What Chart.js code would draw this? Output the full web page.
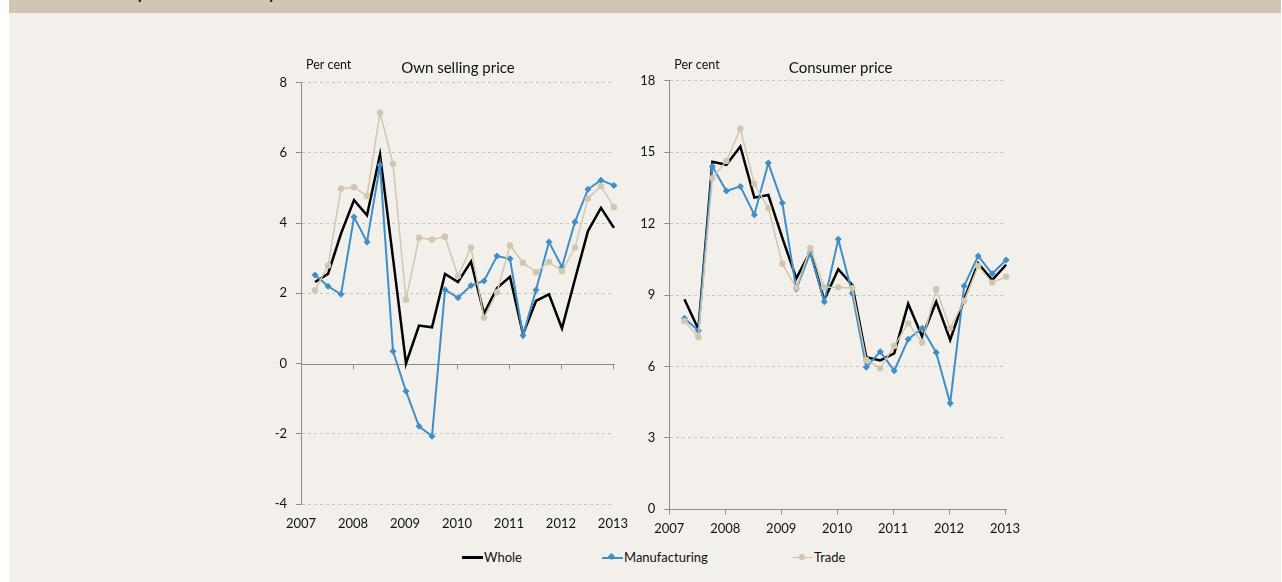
<!DOCTYPE html>
<html>
<head>
<meta charset="utf-8">
<script src="https://cdn.jsdelivr.net/npm/chart.js@4/dist/chart.umd.min.js"></script>
<style>
  html, body { margin: 0; padding: 0; background: #fff; }
  body { width: 1282px; height: 582px; overflow: hidden; position: relative; font-family: Lato, 'Open Sans', sans-serif; }
  #panel { position: absolute; left: 9px; right: 1px; top: 0; bottom: 0; background: #f3f0ec; }
  #band { position: absolute; left: 9px; right: 1px; top: 0; height: 13px; background: #d2c5b4; overflow: hidden; }
  #band span { position: absolute; left: 0; top: -14px; font-weight: bold; font-family: Lato, sans-serif; color: #000; white-space: nowrap; }
  .box { position: absolute; top: 40px; width: 400px; height: 500px; }
  #legend { position: absolute; top: 549px; left: 0; width: 1282px; height: 16px; font-size: 13px; color: #111; }
  #legend .item { position: absolute; top: 0; line-height: 16px; white-space: nowrap; }
  #legend .ln { display: inline-block; position: relative; width: 21px; vertical-align: middle; margin-right: 1px; top: -1px; }
  #legend .mk { position: absolute; left: 7px; }
</style>
</head>
<body>
<div id="panel"></div>
<div id="band"><span id="bandTitle">Chart 2. Inflation expectations of firms by sector</span></div>
<div class="box" style="left:240px"><canvas id="own"></canvas></div>
<div class="box" style="left:640px"><canvas id="cpi"></canvas></div>
<div id="legend">
  <span class="item" style="left:462px"><i class="ln" style="height:2.5px;background:#000"></i>Whole</span>
  <span class="item" style="left:602px"><i class="ln" style="height:2px;background:#3e8ec7"><i class="mk" style="top:-2.5px;width:5px;height:5px;background:#3e8ec7;transform:rotate(45deg)"></i></i>Manufacturing</span>
  <span class="item" style="left:792px"><i class="ln" style="height:1.5px;background:#cfc7ae"><i class="mk" style="top:-2.5px;width:6px;height:6px;border-radius:50%;background:#cfc7ae"></i></i>Trade</span>
</div>
<script>
// quarterly observations, 2007Q2 - 2013Q1
const quarters = ['2007Q2','2007Q3','2007Q4','2008Q1','2008Q2','2008Q3','2008Q4','2009Q1',
  '2009Q2','2009Q3','2009Q4','2010Q1','2010Q2','2010Q3','2010Q4','2011Q1',
  '2011Q2','2011Q3','2011Q4','2012Q1','2012Q2','2012Q3','2012Q4','2013Q1'];
const yearLabels = ['2007','2008','2009','2010','2011','2012','2013'];

// Own selling price, per cent
const ownWhole = [2.32, 2.55, 3.7, 4.65, 4.22, 5.95, 3.0, 0.0, 1.08, 1.03, 2.55, 2.32,
  2.9, 1.42, 2.15, 2.47, 0.83, 1.78, 1.97, 1.0, 2.4, 3.77, 4.43, 3.86];
const ownManufacturing = [2.52, 2.2, 1.97, 4.17, 3.46, 5.65, 0.35, -0.79, -1.79, -2.07, 2.1, 1.87,
  2.22, 2.35, 3.06, 2.98, 0.8, 2.09, 3.46, 2.75, 4.03, 4.96, 5.22, 5.07];
const ownTrade = [2.09, 2.79, 4.98, 5.02, 4.77, 7.14, 5.69, 1.82, 3.58, 3.53, 3.61, 2.49,
  3.3, 1.3, 2.03, 3.36, 2.87, 2.6, 2.89, 2.63, 3.3, 4.7, 5.05, 4.45];

// Consumer price, per cent
const cpiWhole = [8.82, 7.56, 14.6, 14.47, 15.24, 13.09, 13.2, 11.4, 9.7, 10.82, 8.79, 10.08,
  9.42, 6.39, 6.25, 6.55, 8.63, 7.25, 8.72, 7.11, 8.82, 10.34, 9.63, 10.27];
const cpiManufacturing = [8.02, 7.5, 14.4, 13.37, 13.56, 12.37, 14.54, 12.86, 9.25, 10.78, 8.72, 11.34,
  9.07, 5.97, 6.62, 5.82, 7.14, 7.6, 6.58, 4.45, 9.38, 10.64, 9.89, 10.47];
const cpiTrade = [7.91, 7.23, 13.91, 14.63, 15.98, 13.67, 12.65, 10.31, 9.3, 10.97, 9.33, 9.33,
  9.29, 6.27, 5.92, 6.86, 7.81, 7.0, 9.24, 7.6, 8.76, 10.22, 9.52, 9.77];

const ownTicks = ['-4', '-2', '0', '2', '4', '6', '8'];
const cpiTicks = ['0', '3', '6', '9', '12', '15', '18'];

const BLUE = '#3e8ec7';
const BEIGE = '#cfc7ae';
const AXIS = '#8c8c8c';
const FONT = 'Lato, "Open Sans", sans-serif';

// header title: only the descenders show below the top edge; size it so 'p' and 'y' land right
(function fitBandTitle() {
  const el = document.getElementById('bandTitle');
  const txt = el.textContent;
  const ctx = document.createElement('canvas').getContext('2d');
  ctx.font = 'bold 20px Lato';
  const at = i => ctx.measureText(txt.slice(0, i)).width;
  const ip = txt.indexOf('p'), iy = txt.indexOf('y');
  const scale = 131 / (at(iy) - at(ip));
  const size = 20 * scale;
  el.style.fontSize = size + 'px';
  el.style.lineHeight = size + 'px';
  el.style.top = (-0.89 * size) + 'px';
  el.style.left = (140 - 9 - at(ip) * scale - 2) + 'px';
})();

const qPos = quarters.map(q => +q.slice(0, 4) + (+q.slice(5) - 1) * 0.25 + 0.02);
const pts = arr => arr.map((v, i) => ({ x: qPos[i], y: v }));

// zero axis with year ticks, plus panel title and unit label
const panelDeco = {
  id: 'panelDeco',
  beforeDatasetsDraw(chart) {
    const { ctx, chartArea, scales: { x, y } } = chart;
    const y0 = Math.round(y.getPixelForValue(0)) + 0.5;
    ctx.save();
    ctx.strokeStyle = AXIS;
    ctx.lineWidth = 1;
    ctx.beginPath();
    ctx.moveTo(chartArea.left, y0);
    ctx.lineTo(chartArea.right + 2, y0);
    x.ticks.forEach(t => {
      const px = Math.round(x.getPixelForValue(t.value)) + 0.5;
      ctx.moveTo(px, y0);
      ctx.lineTo(px, y0 + 5);
    });
    ctx.stroke();
    ctx.restore();
  },
  afterDraw(chart, args, opts) {
    const { ctx, chartArea } = chart;
    ctx.save();
    ctx.fillStyle = '#111';
    ctx.textBaseline = 'middle';
    ctx.font = '15px ' + FONT;
    ctx.textAlign = 'center';
    ctx.fillText(opts.title, (chartArea.left + chartArea.right) / 2 + opts.shift, 28.5);
    ctx.font = '12.5px ' + FONT;
    ctx.textAlign = 'left';
    ctx.fillText('Per cent', chartArea.left + 5, 25);
    ctx.restore();
  }
};

function makePanel(id, whole, manu, trade, yMin, yMax, yStep, yLabels, opt) {
  new Chart(document.getElementById(id), {
    type: 'line',
    data: {
      datasets: [
        { label: 'Whole', data: pts(whole), borderColor: '#000', borderWidth: 2.5,
          pointRadius: 0, order: 3, clip: false },
        { label: 'Manufacturing', data: pts(manu), borderColor: BLUE, backgroundColor: BLUE,
          borderWidth: 2, pointStyle: 'rectRot', pointRadius: 3.5, pointBorderWidth: 0, order: 2, clip: false },
        { label: 'Trade', data: pts(trade), borderColor: BEIGE, backgroundColor: BEIGE,
          borderWidth: 1.5, pointStyle: 'circle', pointRadius: 3.2, pointBorderWidth: 0, order: 1, clip: false }
      ]
    },
    options: {
      responsive: true,
      maintainAspectRatio: false,
      animation: false,
      layout: { padding: { top: opt.top, right: opt.right, left: 0, bottom: 0 } },
      plugins: {
        legend: { display: false },
        tooltip: { enabled: false },
        panelDeco: { title: opt.title, shift: opt.shift }
      },
      scales: {
        x: {
          type: 'linear', min: 2007, max: 2013,
          grid: { display: false, drawTicks: false },
          border: { display: false },
          ticks: { stepSize: 1, padding: 12, maxRotation: 0, autoSkip: false, color: '#111',
            font: { family: FONT, size: 13 },
            callback: v => yearLabels[v - 2007] },
          afterFit: s => { s.height = opt.xh; }
        },
        y: {
          min: yMin, max: yMax,
          grid: {
            color: c => c.tick && c.tick.value === 0 ? 'rgba(0,0,0,0)' : '#c8c4bf',
            tickColor: AXIS, tickLength: 5, tickBorderDash: []
          },
          border: { display: true, color: AXIS, width: 1, dash: [3, 3] },
          ticks: { stepSize: yStep, padding: 9, color: '#111',
            font: { family: FONT, size: 13 },
            callback: v => yLabels[(v - yMin) / yStep] },
          afterFit: s => { s.width = opt.yw; }
        }
      }
    },
    plugins: [panelDeco]
  });
}

makePanel('own', ownWhole, ownManufacturing, ownTrade, -4, 8, 2, ownTicks,
  { top: 42.5, right: 22.5, yw: 61, xh: 36, title: 'Own selling price', shift: 1 });
makePanel('cpi', cpiWhole, cpiManufacturing, cpiTrade, 0, 18, 3, cpiTicks,
  { top: 40.7, right: 35, yw: 29.3, xh: 30.7, title: 'Consumer price', shift: 3.5 });
</script>
</body>
</html>
